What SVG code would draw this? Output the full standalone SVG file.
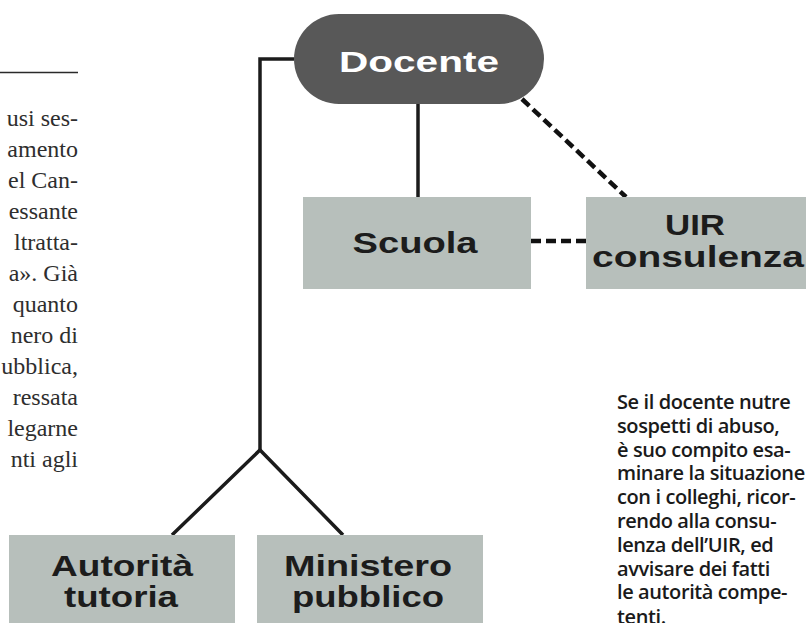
<svg xmlns="http://www.w3.org/2000/svg" width="806" height="623" viewBox="0 0 806 623">
<style>
.box{fill:#b7bfbb}
.lbl{font-family:"Liberation Sans",Arial,sans-serif;font-weight:bold;font-size:29px;fill:#1c1c1c;text-anchor:middle}
.ln{fill:none;stroke:#1b1b1b;stroke-width:3.5}
.dash{fill:none;stroke:#111;stroke-width:4.5;stroke-dasharray:10 5}
.body{font-family:"Liberation Serif","Times New Roman",serif;font-size:24px;fill:#2e2e2e;text-anchor:end}
.note{font-family:"Open Sans","Noto Sans",sans-serif;font-weight:600;font-size:20px;letter-spacing:-0.4px;fill:#1a1a1a}
</style>
<rect width="806" height="623" fill="#ffffff"/>
<g id="article-text">
<line x1="0" y1="72.5" x2="78" y2="72.5" stroke="#2a2a2a" stroke-width="1.3"/>
<text class="body" x="78" y="126">usi ses-</text>
<text class="body" x="78" y="157">amento</text>
<text class="body" x="78" y="188">el Can-</text>
<text class="body" x="78" y="219">essante</text>
<text class="body" x="78" y="250">ltratta-</text>
<text class="body" x="78" y="281">a». Già</text>
<text class="body" x="78" y="312">quanto</text>
<text class="body" x="78" y="343">nero di</text>
<text class="body" x="78" y="374">ubblica,</text>
<text class="body" x="78" y="405">ressata</text>
<text class="body" x="78" y="436">legarne</text>
<text class="body" x="78" y="467">nti agli</text>
</g>
<g id="connectors">
<path class="ln" d="M294,59 H260 V450"/>
<path class="ln" d="M172,535 L260,450 L343,535"/>
<path class="ln" d="M418,104 V197"/>
<path class="dash" d="M522,99 L626,197"/>
<path class="dash" d="M531,241 H586"/>
</g>
<g id="docente">
<rect x="294" y="14" width="250" height="90" rx="45" ry="45" fill="#585858"/>
<text x="419" y="71.5" font-family="Liberation Sans, Arial, sans-serif" font-weight="bold" font-size="29" fill="#ffffff" text-anchor="middle" textLength="160" lengthAdjust="spacingAndGlyphs">Docente</text>
</g>
<g id="scuola">
<rect class="box" x="303" y="197" width="228" height="92"/>
<text class="lbl" x="415" y="253" textLength="125" lengthAdjust="spacingAndGlyphs">Scuola</text>
</g>
<g id="uir">
<rect class="box" x="586" y="197" width="230" height="92"/>
<text class="lbl" x="695" y="235" textLength="60" lengthAdjust="spacingAndGlyphs">UIR</text>
<text class="lbl" x="698" y="267" textLength="212" lengthAdjust="spacingAndGlyphs">consulenza</text>
</g>
<g id="autorita">
<rect class="box" x="9" y="535" width="226" height="95"/>
<text class="lbl" x="122" y="576" textLength="142" lengthAdjust="spacingAndGlyphs">Autorità</text>
<text class="lbl" x="121" y="607" textLength="114" lengthAdjust="spacingAndGlyphs">tutoria</text>
</g>
<g id="ministero">
<rect class="box" x="257" y="535" width="226" height="95"/>
<text class="lbl" x="368" y="576" textLength="168" lengthAdjust="spacingAndGlyphs">Ministero</text>
<text class="lbl" x="368" y="607" textLength="152" lengthAdjust="spacingAndGlyphs">pubblico</text>
</g>
<g id="note">
<text class="note" x="617" y="409">Se il docente nutre</text>
<text class="note" x="617" y="433">sospetti di abuso,</text>
<text class="note" x="617" y="457">è suo compito esa-</text>
<text class="note" x="617" y="480">minare la situazione</text>
<text class="note" x="617" y="504">con i colleghi, ricor-</text>
<text class="note" x="617" y="528">rendo alla consu-</text>
<text class="note" x="617" y="552">lenza dell’UIR, ed</text>
<text class="note" x="617" y="576">avvisare dei fatti</text>
<text class="note" x="617" y="599">le autorità compe-</text>
<text class="note" x="617" y="624">tenti.</text>
</g>
</svg>
